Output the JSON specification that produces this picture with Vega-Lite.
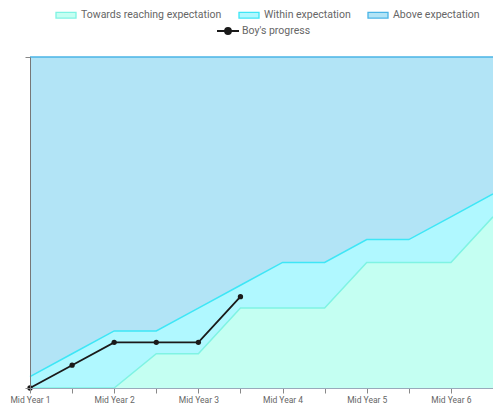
{
  "$schema": "https://vega.github.io/schema/vega-lite/v6.json",
  "autosize": {"type": "none"},
  "width": 463,
  "height": 331,
  "padding": {"left": 30, "top": 57, "right": 0, "bottom": 16},
  "background": "white",
  "config": {
    "view": {"stroke": null},
    "font": "Roboto",
    "axis": {"grid": false, "domainColor": "#888", "tickColor": "#888", "labelColor": "#666", "labelFont": "Roboto"},
    "legend": {"labelFont": "Roboto", "labelColor": "#666", "labelFontSize": 10.5}
  },
  "data": {
    "values": [
      {"x": 1, "series": "Above expectation", "y": 29},
      {"x": 1.5, "series": "Above expectation", "y": 29},
      {"x": 2, "series": "Above expectation", "y": 29},
      {"x": 2.5, "series": "Above expectation", "y": 29},
      {"x": 3, "series": "Above expectation", "y": 29},
      {"x": 3.5, "series": "Above expectation", "y": 29},
      {"x": 4, "series": "Above expectation", "y": 29},
      {"x": 4.5, "series": "Above expectation", "y": 29},
      {"x": 5, "series": "Above expectation", "y": 29},
      {"x": 5.5, "series": "Above expectation", "y": 29},
      {"x": 6, "series": "Above expectation", "y": 29},
      {"x": 6.5, "series": "Above expectation", "y": 29},
      {"x": 1, "series": "Within expectation", "y": 1},
      {"x": 1.5, "series": "Within expectation", "y": 3},
      {"x": 2, "series": "Within expectation", "y": 5},
      {"x": 2.5, "series": "Within expectation", "y": 5},
      {"x": 3, "series": "Within expectation", "y": 7},
      {"x": 3.5, "series": "Within expectation", "y": 9},
      {"x": 4, "series": "Within expectation", "y": 11},
      {"x": 4.5, "series": "Within expectation", "y": 11},
      {"x": 5, "series": "Within expectation", "y": 13},
      {"x": 5.5, "series": "Within expectation", "y": 13},
      {"x": 6, "series": "Within expectation", "y": 15},
      {"x": 6.5, "series": "Within expectation", "y": 17},
      {"x": 1, "series": "Towards reaching expectation", "y": 0},
      {"x": 1.5, "series": "Towards reaching expectation", "y": 0},
      {"x": 2, "series": "Towards reaching expectation", "y": 0},
      {"x": 2.5, "series": "Towards reaching expectation", "y": 3},
      {"x": 3, "series": "Towards reaching expectation", "y": 3},
      {"x": 3.5, "series": "Towards reaching expectation", "y": 7},
      {"x": 4, "series": "Towards reaching expectation", "y": 7},
      {"x": 4.5, "series": "Towards reaching expectation", "y": 7},
      {"x": 5, "series": "Towards reaching expectation", "y": 11},
      {"x": 5.5, "series": "Towards reaching expectation", "y": 11},
      {"x": 6, "series": "Towards reaching expectation", "y": 11},
      {"x": 6.5, "series": "Towards reaching expectation", "y": 15},
      {"x": 1, "series": "Boy's progress", "y": 0},
      {"x": 1.5, "series": "Boy's progress", "y": 2},
      {"x": 2, "series": "Boy's progress", "y": 4},
      {"x": 2.5, "series": "Boy's progress", "y": 4},
      {"x": 3, "series": "Boy's progress", "y": 4},
      {"x": 3.5, "series": "Boy's progress", "y": 8}
    ]
  },
  "encoding": {
    "x": {
      "field": "x", "type": "quantitative",
      "scale": {"domain": [1, 6.5], "nice": false, "zero": false},
      "axis": {
        "title": null, "zindex": 1,
        "values": [1, 1.5, 2, 2.5, 3, 3.5, 4, 4.5, 5, 5.5, 6, 6.5],
        "labelExpr": "datum.value % 1 == 0 ? 'Mid Year ' + datum.value : ''",
        "labelFontSize": 8.5, "tickSize": 5, "labelPadding": 2, "labelFlush": false, "labelOverlap": false,
        "domainColor": "#9ab"
      }
    },
    "y": {
      "field": "y", "type": "quantitative", "stack": null,
      "scale": {"domain": [0, 29], "nice": false},
      "axis": {"title": null, "zindex": 1, "values": [0, 29], "labels": false, "tickSize": 5, "domainColor": "#777"}
    }
  },
  "layer": [
    {
      "transform": [{"filter": "datum.series == 'Above expectation'"}],
      "mark": {"type": "area", "fillOpacity": 1},
      "encoding": {
        "fill": {
          "field": "series", "type": "nominal",
          "scale": {"domain": ["Towards reaching expectation", "Within expectation", "Above expectation"], "range": ["#c4fff2", "#b0f8ff", "#b2e4f6"]},
          "legend": {
            "title": null, "orient": "none", "direction": "horizontal", "legendX": 25, "legendY": -53,
            "symbolType": "M-1,-0.28H1V0.28H-1Z", "symbolSize": 400, "symbolStrokeWidth": 1.3,
            "columnPadding": 14, "labelOffset": 4,
            "encode": {"symbols": {"update": {"stroke": {"signal": "datum.value == 'Above expectation' ? '#4ab4e6' : datum.value == 'Within expectation' ? '#3ee6f6' : '#7ff3e3'"}}}}
          }
        }
      }
    },
    {
      "transform": [{"filter": "datum.series == 'Within expectation'"}],
      "mark": {"type": "area", "fillOpacity": 1},
      "encoding": {"fill": {"field": "series", "type": "nominal"}}
    },
    {
      "transform": [{"filter": "datum.series == 'Towards reaching expectation'"}],
      "mark": {"type": "area", "fillOpacity": 1},
      "encoding": {"fill": {"field": "series", "type": "nominal"}}
    },
    {
      "transform": [{"filter": "datum.series == 'Above expectation'"}],
      "mark": {"type": "line", "stroke": "#4ab4e6", "strokeWidth": 1.5},
      "encoding": {}
    },
    {
      "transform": [{"filter": "datum.series == 'Within expectation'"}],
      "mark": {"type": "line", "stroke": "#3ee6f6", "strokeWidth": 1.5},
      "encoding": {}
    },
    {
      "transform": [{"filter": "datum.series == 'Towards reaching expectation'"}],
      "mark": {"type": "line", "stroke": "#7ff3e3", "strokeWidth": 1.5},
      "encoding": {}
    },
    {
      "transform": [{"filter": "datum.series == \"Boy's progress\""}],
      "mark": {"type": "line", "strokeWidth": 1.8, "point": {"filled": true, "size": 28, "opacity": 1}},
      "encoding": {
        "color": {
          "field": "series", "type": "nominal",
          "scale": {"domain": ["Boy's progress"], "range": ["#1a1a1a"]},
          "legend": {
            "title": null, "orient": "none", "legendX": 187, "legendY": -37,
            "symbolType": "M-1.1,0H1.1M-0.3,0A0.3,0.3 0 1,1 0.3,0A0.3,0.3 0 1,1 -0.3,0Z",
            "symbolSize": 400, "symbolFillColor": "#1a1a1a", "symbolStrokeColor": "#1a1a1a", "symbolStrokeWidth": 1.8, "labelOffset": 3
          }
        }
      }
    }
  ]
}
